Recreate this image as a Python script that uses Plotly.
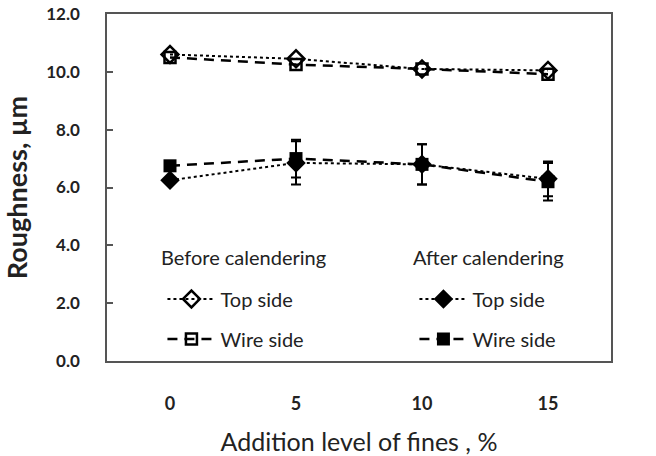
import plotly.graph_objects as go

levels = ["0", "5", "10", "15"]
before_top = [10.6, 10.45, 10.1, 10.05]
before_wire = [10.5, 10.25, 10.1, 9.92]
after_top = [6.25, 6.85, 6.8, 6.3]
after_wire = [6.75, 7.0, 6.8, 6.2]
after_top_err = [0.1, 0.75, 0.7, 0.6]
after_wire_err = [0.1, 0.65, 0.7, 0.65]
y_ticks = [0, 2, 4, 6, 8, 10, 12]
y_tick_text = ["0.0", "2.0", "4.0", "6.0", "8.0", "10.0", "12.0"]
group_headers = ["Before calendering", "After calendering"]

FONT = "Lato"
fig = go.Figure()

fig.add_trace(go.Scatter(
    x=levels, y=before_top, name="Top side", mode="lines+markers",
    line=dict(color="black", width=2, dash="dot"),
    marker=dict(symbol="diamond-open", size=13, color="black", line=dict(width=2.5)),
    legend="legend", legendgroup="bt"))
fig.add_trace(go.Scatter(
    x=levels, y=before_wire, name="Wire side", mode="lines+markers",
    line=dict(color="black", width=2.5, dash="10px,7px"),
    marker=dict(symbol="square-open", size=11, color="black", line=dict(width=2.5)),
    legend="legend", legendgroup="bw"))
fig.add_trace(go.Scatter(
    x=levels, y=after_top, name="Top side", mode="lines+markers",
    line=dict(color="black", width=2, dash="dot"),
    marker=dict(symbol="diamond", size=15, color="black"),
    error_y=dict(type="data", array=after_top_err, color="black", thickness=2, width=5),
    legend="legend2", legendgroup="at"))
fig.add_trace(go.Scatter(
    x=levels, y=after_wire, name="Wire side", mode="lines+markers",
    line=dict(color="black", width=2.5, dash="10px,7px"),
    marker=dict(symbol="square", size=13, color="black"),
    error_y=dict(type="data", array=after_wire_err, color="black", thickness=2, width=5),
    legend="legend2", legendgroup="aw"))

LFONT = dict(family=FONT, size=20, color="#222")
legend_common = dict(
    font=LFONT, bgcolor="rgba(0,0,0,0)", tracegroupgap=11, itemwidth=48,
    xanchor="left", yanchor="top", traceorder="grouped",
)
fig.update_layout(
    width=656, height=456,
    margin=dict(l=107, r=45, t=14, b=95),
    paper_bgcolor="white", plot_bgcolor="white",
    font=dict(family=FONT, color="#222"),
    showlegend=True,
    legend=dict(x=0.11, y=0.235, **legend_common),
    legend2=dict(x=0.61, y=0.235, **legend_common),
    annotations=[
        dict(text=group_headers[0], xref="paper", yref="paper", x=0.104, y=0.30,
             xanchor="left", yanchor="middle", showarrow=False, font=LFONT),
        dict(text=group_headers[1], xref="paper", yref="paper", x=0.604, y=0.30,
             xanchor="left", yanchor="middle", showarrow=False, font=LFONT),
    ],
    xaxis=dict(
        type="category", range=[-0.5, 3.5], automargin=False,
        showline=True, mirror=True, linecolor="#555", linewidth=1.5,
        ticks="", showgrid=False, ticklabelstandoff=26,
        tickfont=dict(family=FONT, size=18, color="#222", weight="bold"),
        title=dict(text="Addition level of fines , %", font=dict(family=FONT, size=25, color="#222"), standoff=33),
    ),
    yaxis=dict(
        range=[0, 12], tickvals=y_ticks, ticktext=y_tick_text, automargin=False,
        ticklabeloverflow="allow",
        showline=True, mirror=True, linecolor="#555", linewidth=1.5,
        ticks="inside", ticklen=6, tickcolor="#555", tickwidth=1.5,
        showgrid=False, zeroline=False, ticklabelstandoff=22,
        tickfont=dict(family=FONT, size=17, color="#222", weight="bold"),
        title=dict(text="Roughness, µm", font=dict(family=FONT, size=27, color="#222", weight="bold"), standoff=12),
    ),
)

fig.write_html("out.html")
